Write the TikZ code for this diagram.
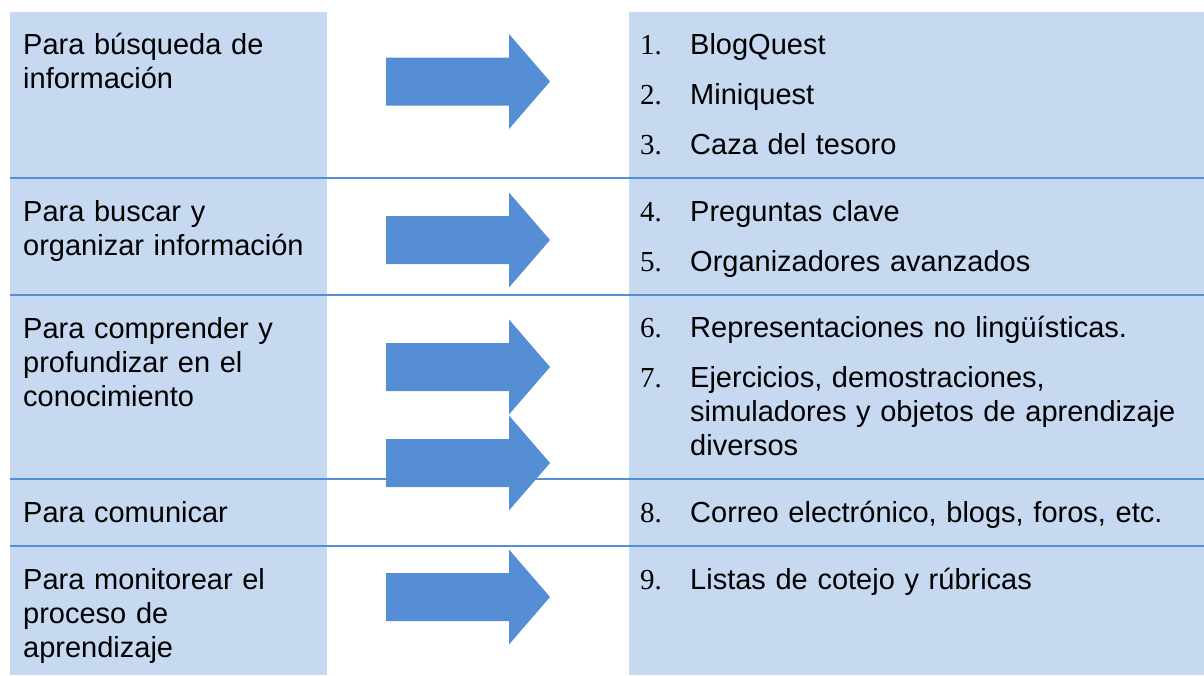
\documentclass[tikz,border=0pt]{standalone}
\usepackage{fontspec}
\setmainfont{Liberation Sans}
\newfontfamily\numfont{Liberation Serif}
\definecolor{cellblue}{HTML}{C6D9F1}
\definecolor{arrowblue}{HTML}{558ED5}
\begin{document}
\begin{tikzpicture}[x=1pt,y=-1pt,
  column/.style={fill=cellblue,draw=none},
  rowline/.style={draw=arrowblue,line width=2pt},
  bigarrow/.pic={\fill[arrowblue] (0,-24) -- (123,-24) -- (123,-47.5) -- (164,0) -- (123,47.5) -- (123,24) -- (0,24) -- cycle;},
  lefttext/.style={anchor=base west,inner sep=0pt,align=left,text width=300pt,font=\fontsize{29}{34}\selectfont},
  itemtext/.style={anchor=base west,inner sep=0pt,align=left,text width=510pt,font=\fontsize{29}{34}\selectfont},
  itemnum/.style={anchor=base west,inner sep=0pt,font=\numfont\fontsize{29}{34}\selectfont}]
\useasboundingbox (0,0) rectangle (1204,675);
% columns
\fill[column] (10,12) rectangle (327,675);
\fill[column] (629,12) rectangle (1204,675);
% row separators
\draw[rowline] (10,178) -- (1204,178);
\draw[rowline] (10,295) -- (1204,295);
\draw[rowline] (10,479) -- (1204,479);
\draw[rowline] (10,546) -- (1204,546);
% arrows
\pic (ar1) at (386,81.5) {bigarrow};
\pic (ar2) at (386,240) {bigarrow};
\pic (ar3) at (386,367) {bigarrow};
\pic (ar4) at (386,463) {bigarrow};
\pic (ar5) at (386,597) {bigarrow};
% left labels
\node[lefttext] (l1) at (23,54) {Para búsqueda de\\información};
\node[lefttext] (l2) at (23,221) {Para buscar y\\organizar información};
\node[lefttext] (l3) at (23,338) {Para comprender y\\profundizar en el\\conocimiento};
\node[lefttext] (l4) at (23,522) {Para comunicar};
\node[lefttext] (l5) at (23,589) {Para monitorear el\\proceso de\\aprendizaje};
% right items
\node[itemnum] (n1) at (640,54) {1.};
\node[itemtext] (t1) at (690,54) {BlogQuest};
\node[itemnum] (n2) at (640,104) {2.};
\node[itemtext] (t2) at (690,104) {Miniquest};
\node[itemnum] (n3) at (640,154) {3.};
\node[itemtext] (t3) at (690,154) {Caza del tesoro};
\node[itemnum] (n4) at (640,221) {4.};
\node[itemtext] (t4) at (690,221) {Preguntas clave};
\node[itemnum] (n5) at (640,271) {5.};
\node[itemtext] (t5) at (690,271) {Organizadores avanzados};
\node[itemnum] (n6) at (640,337) {6.};
\node[itemtext] (t6) at (690,337) {Representaciones no lingüísticas.};
\node[itemnum] (n7) at (640,387) {7.};
\node[itemtext] (t7) at (690,387) {Ejercicios, demostraciones,\\simuladores y objetos de aprendizaje\\diversos};
\node[itemnum] (n8) at (640,522) {8.};
\node[itemtext] (t8) at (690,522) {Correo electrónico, blogs, foros, etc.};
\node[itemnum] (n9) at (640,589) {9.};
\node[itemtext] (t9) at (690,589) {Listas de cotejo y rúbricas};
\end{tikzpicture}
\end{document}
